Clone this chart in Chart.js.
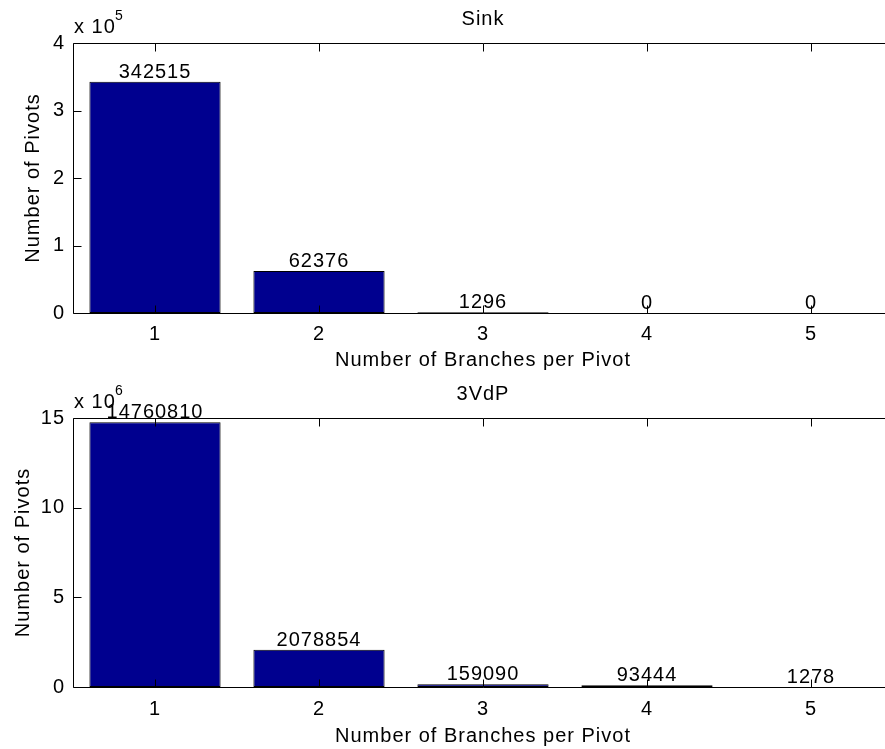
<!DOCTYPE html>
<html>
<head>
<meta charset="utf-8">
<script src="https://cdn.jsdelivr.net/npm/chart.js@4/dist/chart.umd.min.js"></script>
<style>
  html, body { margin: 0; padding: 0; background: #fff; overflow: hidden; }
  #wrap { position: relative; width: 885px; height: 749px; overflow: hidden; }
  .panel { position: absolute; left: 0; width: 893px; }
</style>
</head>
<body>
<div id="wrap">
  <div class="panel" style="top:0;height:374px"><canvas id="sinkChart" width="893" height="374"></canvas></div>
  <div class="panel" style="top:374px;height:375px"><canvas id="vdpChart" width="893" height="375"></canvas></div>
</div>
<script>
const categories = ["1", "2", "3", "4", "5"];
const sinkValues = [342515, 62376, 1296, 0, 0];
const vdpValues = [14760810, 2078854, 159090, 93444, 1278];
const sinkTicks = [0, 1, 2, 3, 4];
const vdpTicks = [0, 5, 10, 15];

const barFill = "rgb(0,0,143)";
const font = "'Liberation Sans', Arial, Helvetica, sans-serif";

// MATLAB-style axes box, inward ticks, titles and value labels
const matlabLook = {
  id: "matlabLook",
  beforeDraw(chart) {
    chart.ctx.letterSpacing = "1px";
  },
  afterDraw(chart, args, o) {
    const { ctx, chartArea: a, scales } = chart;
    const L = a.left + 0.5, T = a.top + 0.5, B = a.bottom + 0.5, R = a.right + 0.5;
    ctx.save();
    ctx.strokeStyle = "#000";
    ctx.lineWidth = 1;
    ctx.beginPath();
    ctx.moveTo(R, T); ctx.lineTo(L, T); ctx.lineTo(L, B); ctx.lineTo(R, B);
    scales.x.ticks.forEach((t, i) => {
      const x = Math.round(scales.x.getPixelForTick(i)) + 0.5;
      ctx.moveTo(x, T); ctx.lineTo(x, T + 8);
      ctx.moveTo(x, B); ctx.lineTo(x, B - 8);
    });
    scales.y.ticks.forEach((t) => {
      const y = Math.round(scales.y.getPixelForValue(t.value)) + 0.5;
      ctx.moveTo(L, y); ctx.lineTo(L + 8, y);
    });
    ctx.stroke();

    ctx.fillStyle = "#000";
    ctx.letterSpacing = "1px";
    ctx.font = "20px " + font;
    ctx.textAlign = "center";
    ctx.textBaseline = "alphabetic";
    const cx = (a.left + a.right) / 2;
    ctx.fillText(o.title, cx, o.titleY);
    ctx.fillText("Number of Branches per Pivot", cx, o.xTitleY);

    // value labels above bars
    const meta = chart.getDatasetMeta(0);
    meta.data.forEach((bar, i) => {
      ctx.fillText(String(chart.data.datasets[0].data[i]), bar.x, bar.y - 4);
    });

    // exponent
    ctx.textAlign = "left";
    ctx.fillText("x 10", a.left + 1, o.expY);
    ctx.font = "14px " + font;
    ctx.letterSpacing = "0px";
    ctx.fillText(o.exp, a.left + 42, o.expY - 13);

    // y title
    ctx.font = "20px " + font;
    ctx.letterSpacing = "1px";
    ctx.translate(o.yTitleX, (a.top + a.bottom) / 2);
    ctx.rotate(-Math.PI / 2);
    ctx.textAlign = "center";
    ctx.textBaseline = "middle";
    ctx.fillText("Number of Pivots", 0, 0);
    ctx.restore();
  },
};

function makeChart(id, values, tickVals, scale, opts) {
  const el = document.getElementById(id);
  return new Chart(el.getContext("2d"), {
    type: "bar",
    data: {
      labels: categories,
      datasets: [{
        data: values,
        backgroundColor: barFill,
        borderColor: "#000",
        borderWidth: 1,
        borderSkipped: false,
        barPercentage: 0.8,
        categoryPercentage: 1,
      }],
    },
    options: {
      responsive: false,
      animation: false,
      events: [],
      layout: { padding: { top: opts.top, left: 0, right: 0, bottom: 0 } },
      plugins: { legend: { display: false }, tooltip: { enabled: false }, matlabLook: opts },
      scales: {
        x: {
          grid: { display: false, drawTicks: false },
          border: { display: false },
          ticks: { color: "#000", font: { size: 20, family: font }, padding: opts.xPad, maxRotation: 0 },
          afterFit: (s) => {
            s.height = opts.xHeight;
            s.paddingLeft = 0;
            s.paddingRight = 0;
          },
        },
        y: {
          min: 0,
          max: tickVals[tickVals.length - 1] * scale,
          afterBuildTicks: (s) => { s.ticks = tickVals.map((v) => ({ value: v * scale })); },
          grid: { display: false, drawTicks: false },
          border: { display: false },
          ticks: { color: "#000", font: { size: 20, family: font }, padding: 8, callback: (v) => v / scale },
          afterFit: (s) => {
            s.width = 73;
            s.paddingTop = 0;
            s.paddingBottom = 0;
          },
        },
      },
    },
    plugins: [matlabLook],
  });
}

makeChart("sinkChart", sinkValues, sinkTicks, 1e5, {
  top: 43, xHeight: 61, xPad: 9, title: "Sink", titleY: 25, xTitleY: 366, expY: 33, exp: "5", yTitleX: 33,
});
makeChart("vdpChart", vdpValues, vdpTicks, 1e6, {
  top: 44, xHeight: 62, xPad: 10, title: "3VdP", titleY: 26, xTitleY: 368, expY: 34, exp: "6", yTitleX: 23,
});
</script>
</body>
</html>
